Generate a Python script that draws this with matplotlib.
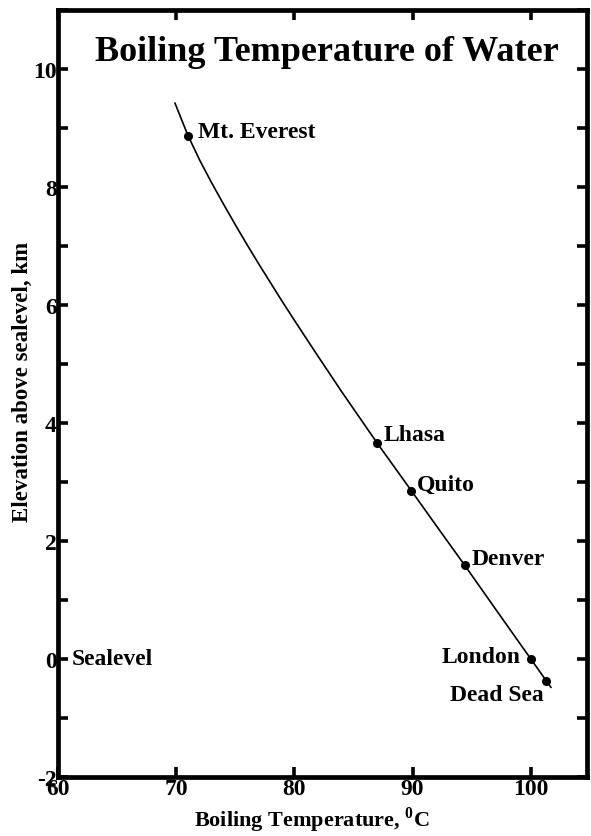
import matplotlib
matplotlib.use("Agg")
import matplotlib.pyplot as plt
from matplotlib.ticker import MultipleLocator

plt.rcParams["font.family"] = ["Liberation Serif", "DejaVu Serif"]
plt.rcParams["font.weight"] = "bold"
plt.rcParams["mathtext.fontset"] = "custom"
plt.rcParams["mathtext.rm"] = "Liberation Serif:bold"
plt.rcParams["mathtext.bf"] = "Liberation Serif:bold"
plt.rcParams["axes.unicode_minus"] = False

# Boiling curve (temperature in deg C, elevation in km)
curve_temp = [69.9, 71.0, 72.0, 73.0, 74.0, 75.0, 76.0, 77.0, 78.0, 79.0, 80.0,
              82.0, 84.0, 86.0, 87.0, 89.9, 92.0, 94.4, 97.0, 100.0, 101.7]
curve_elev = [9.42, 8.87, 8.45, 8.07, 7.71, 7.36, 7.02, 6.69, 6.37, 6.05, 5.74,
              5.13, 4.53, 3.95, 3.66, 2.85, 2.26, 1.59, 0.85, 0.0, -0.48]

# Named places on the curve
places = ["Mt. Everest", "Lhasa", "Quito", "Denver", "London", "Dead Sea"]
place_temp = [71.0, 87.0, 89.9, 94.4, 100.0, 101.3]
place_elev = [8.87, 3.66, 2.85, 1.59, 0.0, -0.37]

x_ticks = [60, 70, 80, 90, 100]
y_ticks = [-2, 0, 2, 4, 6, 8, 10]

fig = plt.figure(figsize=(5.91, 8.37), dpi=100)
ax = fig.add_axes([0.0981, 0.0705, 0.8951, 0.9164])

ax.plot(curve_temp, curve_elev, color="black", lw=1.2, zorder=2)
ax.plot(place_temp, place_elev, "o", color="black", ms=5.5, zorder=3)

# label placement: (dx, dy) offset in points, horizontal alignment
label_style = {
    "Mt. Everest": ((7, 3), "left"),
    "Lhasa": ((5, 6), "left"),
    "Quito": ((4, 5), "left"),
    "Denver": ((5, 5), "left"),
    "London": ((-7, 2), "right"),
    "Dead Sea": ((-2, -10), "right"),
}
for name, t, e in zip(places, place_temp, place_elev):
    (dx, dy), ha = label_style[name]
    ax.annotate(name, (t, e), xytext=(dx, dy), textcoords="offset points",
                ha=ha, va="center", fontsize=17, fontweight="bold")

ax.text(61.2, 0.0, "Sealevel", ha="left", va="center", fontsize=17, fontweight="bold")

ax.text(0.509, 0.946, "Boiling Temperature of Water", transform=ax.transAxes,
        ha="center", va="center", fontsize=26, fontweight="bold")

ax.set_xlim(60, 104.75)
ax.set_ylim(-2, 11)
ax.set_xticks(x_ticks)
ax.set_yticks(y_ticks)
ax.yaxis.set_minor_locator(MultipleLocator(1))

for s in ax.spines.values():
    s.set_linewidth(3.4)

ax.tick_params(axis="both", which="both", direction="in", length=7, width=2.6,
               top=True, right=True, labelsize=17)
ax.tick_params(axis="x", pad=1)
ax.tick_params(axis="y", pad=1)
for lbl in ax.get_xticklabels() + ax.get_yticklabels():
    lbl.set_fontweight("bold")

ax.set_xlabel(r"Boiling Temperature, $^{\mathbf{0}}$C", fontsize=16,
              fontweight="bold")
ax.xaxis.set_label_coords(0.479, -0.036)
ax.xaxis.label.set_va("top")
ax.set_ylabel("Elevation above sealevel, km", fontsize=16.5, fontweight="bold")
ax.yaxis.set_label_coords(-0.047, 0.516)

fig.savefig("out.png", dpi=100, facecolor="white")
